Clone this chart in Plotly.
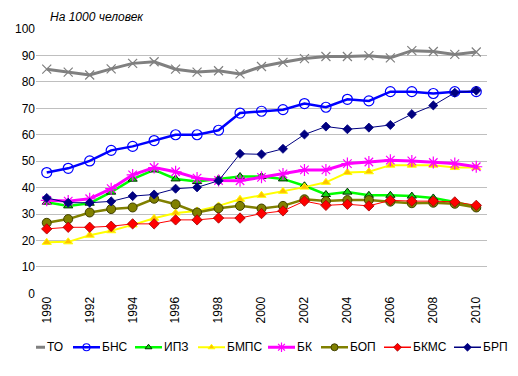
import plotly.graph_objects as go

years = list(range(1990, 2011))

TO = [84.8, 83.7, 82.6, 84.9, 87.0, 87.6, 84.8, 83.7, 84.2, 83.0, 85.8,
      87.4, 88.8, 89.6, 89.6, 89.9, 89.1, 91.8, 91.5, 90.4, 91.3]
BNS = [45.7, 47.3, 50.1, 54.1, 55.6, 57.8, 60.0, 60.0, 61.7, 68.2, 68.9,
       69.5, 71.8, 70.4, 73.4, 72.8, 76.3, 76.3, 75.6, 76.3, 76.3]
IPZ = [34.5, 33.1, 34.1, 38.3, 43.2, 46.7, 43.3, 42.3, 43.3, 44.2, 44.2,
       43.3, 40.7, 37.4, 38.3, 37.1, 37.1, 36.8, 36.1, 34.6, 32.7]
BMPS = [19.3, 19.5, 22.0, 23.7, 25.9, 28.4, 30.4, 31.2, 33.1, 35.6, 37.1,
        38.6, 40.2, 42.0, 45.7, 46.0, 48.5, 48.5, 48.5, 47.6, 47.6]
BK = [35.2, 34.9, 35.8, 39.6, 44.8, 47.6, 46.0, 43.6, 42.7, 42.6, 43.9,
      45.2, 46.7, 46.7, 49.1, 49.7, 50.4, 50.1, 49.5, 49.1, 47.9]
BOP = [26.7, 28.1, 30.6, 31.9, 32.5, 35.8, 33.7, 30.6, 32.2, 33.1, 32.1,
       33.1, 35.6, 34.9, 35.3, 35.3, 34.7, 34.1, 34.3, 33.9, 32.5]
BKMS = [24.4, 25.0, 25.0, 25.4, 26.3, 26.3, 27.8, 27.8, 28.5, 28.5, 30.2,
        31.2, 34.9, 33.3, 33.7, 33.1, 35.2, 34.9, 34.9, 34.6, 33.3]
BRP = [36.1, 34.3, 34.3, 34.8, 36.8, 37.4, 39.6, 40.1, 42.6, 52.8, 52.6,
       54.7, 60.1, 63.1, 62.1, 62.7, 63.7, 67.8, 71.1, 75.9, 76.7]

names = ["ТО", "БНС", "ИПЗ", "БМПС", "БК", "БОП", "БКМС", "БРП"]
series = [TO, BNS, IPZ, BMPS, BK, BOP, BKMS, BRP]
tick_years = list(range(1990, 2011, 2))

styles = [
    dict(line=dict(color="#808080", width=3),
         marker=dict(symbol="x-thin-open", size=9, color="#808080",
                     line=dict(color="#808080", width=1.2))),
    dict(line=dict(color="#0000FF", width=2.5),
         marker=dict(symbol="circle-open", size=10, color="#0000FF",
                     line=dict(color="#0000FF", width=1.2))),
    dict(line=dict(color="#00FF00", width=2.5),
         marker=dict(symbol="triangle-up", size=8, color="#10D810",
                     line=dict(color="#003000", width=1))),
    dict(line=dict(color="#FFFF00", width=2),
         marker=dict(symbol="triangle-up", size=8, color="#FFC000",
                     line=dict(color="#FFFF00", width=1))),
    dict(line=dict(color="#FF00FF", width=3),
         marker=dict(symbol="asterisk-open", size=10, color="#FF00FF",
                     line=dict(color="#FF00FF", width=1.2))),
    dict(line=dict(color="#808000", width=2.5),
         marker=dict(symbol="circle", size=9, color="#808000",
                     line=dict(color="#404000", width=1))),
    dict(line=dict(color="#FF0000", width=1),
         marker=dict(symbol="diamond", size=8, color="#FF0000",
                     line=dict(color="#A00000", width=0.8))),
    dict(line=dict(color="#000080", width=1),
         marker=dict(symbol="diamond", size=7, color="#000080",
                     line=dict(color="#000080", width=0.8))),
]
legend_marker_sizes = [9, 7, 6, 6, 8, 7, 6, 6]

# Layout geometry (pixels)
W, H = 518, 376
ML, MR, MT, MB = 36, 31, 29, 10
PLOT_BOTTOM = 299.0          # pixel row of the value-axis zero line
PA_BOTTOM = H - MB           # bottom of the whole plotting region
PA_H = PA_BOTTOM - MT
main_dom0 = (PA_BOTTOM - PLOT_BOTTOM) / PA_H

legend_left_px = [18, 73, 135, 198, 268, 321, 384, 454]
legend_line_px = 27
legend_y_px = 354

fig = go.Figure()
for name, vals, st in zip(names, series, styles):
    fig.add_trace(go.Scatter(x=years, y=vals, name=name, mode="lines+markers",
                             line=st["line"], marker=st["marker"],
                             showlegend=False))

# Custom compact legend drawn on a helper pixel-scaled axis pair
annotations = []
for name, st, lx, ms in zip(names, styles, legend_left_px, legend_marker_sizes):
    fig.add_trace(go.Scatter(
        x=[lx, lx + legend_line_px], y=[legend_y_px] * 2,
        xaxis="x2", yaxis="y2", mode="lines",
        line=dict(color=st["line"]["color"], width=max(st["line"]["width"], 1.5)),
        showlegend=False, hoverinfo="skip", cliponaxis=False))
    m = dict(st["marker"])
    m["size"] = ms
    if m["symbol"] == "x-thin-open":
        m["line"] = dict(color="#A0A0A0", width=1.5)
    fig.add_trace(go.Scatter(
        x=[lx + legend_line_px / 2], y=[legend_y_px],
        xaxis="x2", yaxis="y2", mode="markers", marker=m,
        showlegend=False, hoverinfo="skip", cliponaxis=False))
    annotations.append(dict(text=name, xref="x2", yref="y2",
                            x=lx + legend_line_px + 1, y=legend_y_px,
                            xanchor="left", yanchor="middle", showarrow=False,
                            font=dict(size=12), borderpad=0))

annotations.append(dict(text="<i>На 1000 человек</i>", xref="paper", yref="paper",
                        x=(49 - ML) / (W - ML - MR), y=(PA_BOTTOM - 16.5) / PA_H,
                        xanchor="left", yanchor="middle",
                        showarrow=False, font=dict(size=12), borderpad=0))

fig.update_layout(
    width=W, height=H,
    margin=dict(l=ML, r=MR, t=MT, b=MB),
    paper_bgcolor="white", plot_bgcolor="white",
    font=dict(family="Liberation Sans, Arial, sans-serif", size=12, color="#000000"),
    showlegend=False,
    annotations=annotations,
    xaxis=dict(range=[1989.5, 2010.5], tickvals=tick_years,
               tickangle=-90, showgrid=False, zeroline=False, showline=False,
               ticks="", tickfont=dict(size=12), anchor="y"),
    yaxis=dict(range=[0, 100], dtick=10, showgrid=True, domain=[main_dom0, 1],
               gridcolor="#BFBFBF", gridwidth=1, zeroline=False,
               showline=False, ticks="", tickfont=dict(size=12), anchor="x"),
    xaxis2=dict(range=[ML, W - MR], domain=[0, 1], anchor="y2",
                visible=False, fixedrange=True),
    yaxis2=dict(range=[PA_BOTTOM, PLOT_BOTTOM], domain=[0, main_dom0],
                anchor="x2", visible=False, fixedrange=True),
)

fig.write_html("out.html", config={"displayModeBar": False},
               post_script="document.body.style.margin='0';")
